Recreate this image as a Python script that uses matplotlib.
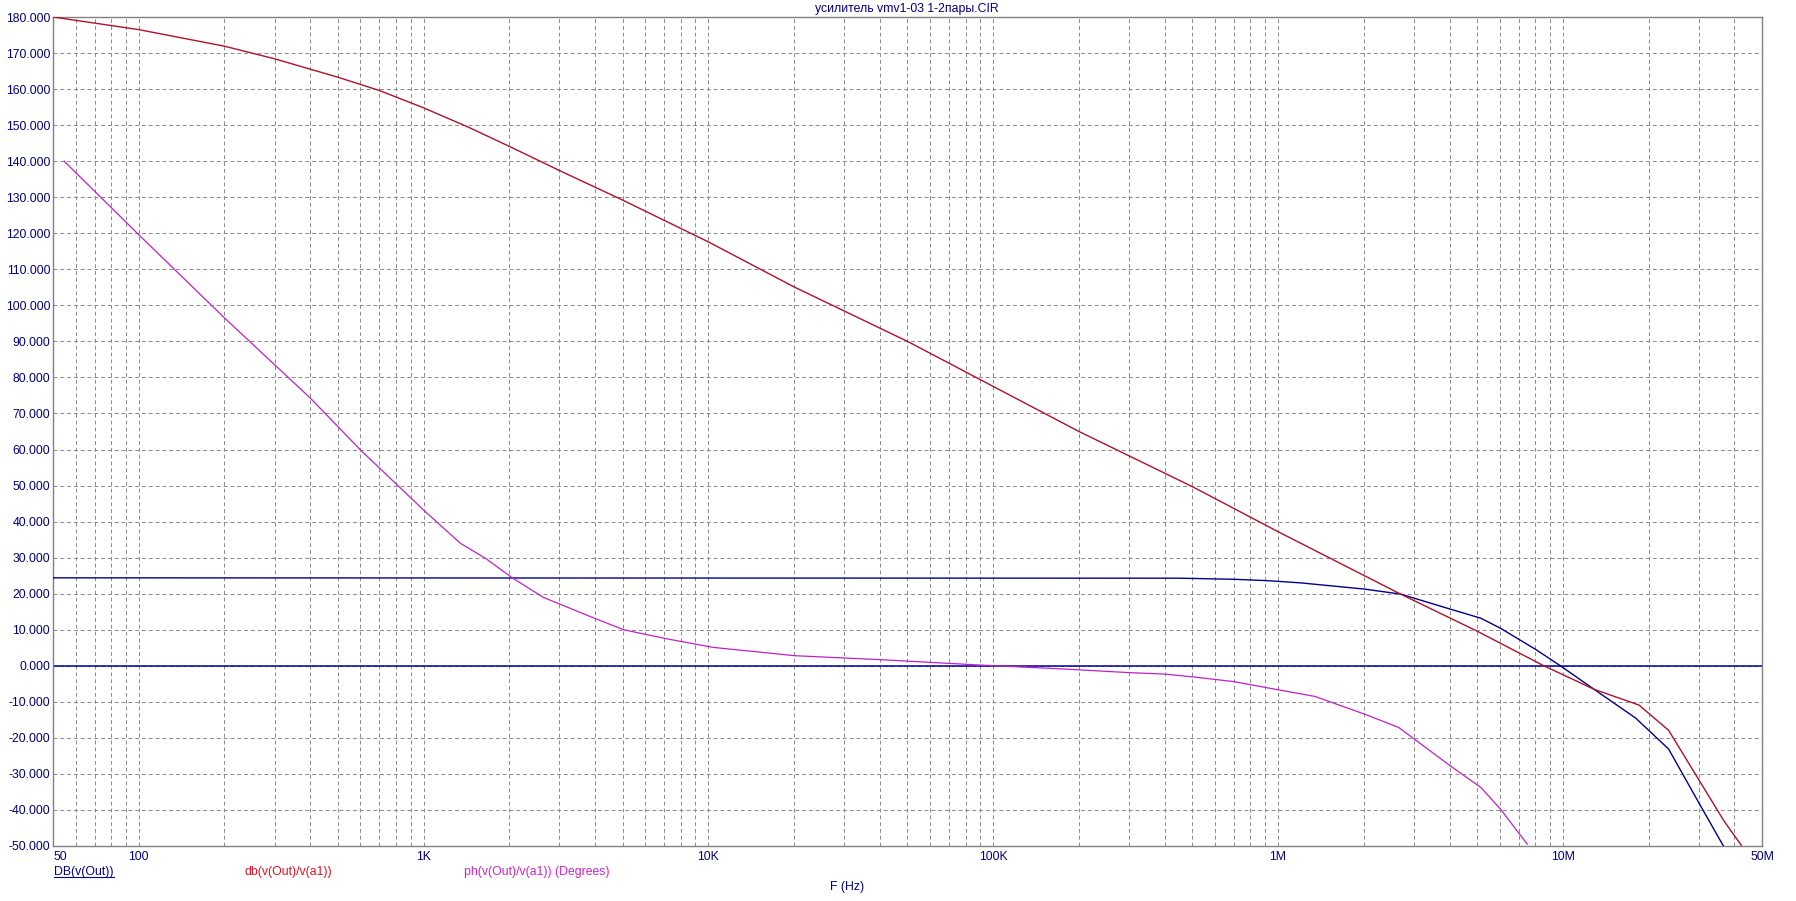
import matplotlib
matplotlib.use('Agg')
import matplotlib.pyplot as plt
from matplotlib.ticker import FixedLocator, LogLocator, NullFormatter, MultipleLocator, FormatStrFormatter
from matplotlib.lines import Line2D

plt.rcParams['font.family'] = ['Liberation Sans', 'DejaVu Sans']

# DB(v(Out))
f_out = [50, 450e3, 700e3, 925e3, 1.2e6, 2.0e6, 2.69e6, 4.03e6, 5.15e6, 6.04e6,
         8.0e6, 9.8e6, 12.85e6, 18.0e6, 23.5e6, 30e6, 36.6e6]
db_out = [24.4, 24.3, 24.0, 23.6, 23.0, 21.3, 19.9, 15.7, 13.2, 10.4,
          4.6, 0.0, -6.5, -14.5, -23.1, -38.0, -50.0]

# db(v(Out)/v(a1))
f_gain = [50, 100, 200, 300, 500, 700, 1e3, 1.44e3, 2e3, 3e3, 5e3, 10e3, 20e3, 50e3,
          100e3, 200e3, 500e3, 1e6, 2.69e6, 5e6, 8.57e6, 12.85e6, 18.5e6, 23.5e6,
          36.8e6, 42.3e6]
db_gain = [180, 176.5, 171.9, 168.4, 163.3, 159.6, 154.8, 149.4, 144.1, 137.4, 129.2,
           117.6, 105.1, 90.0, 77.5, 65.0, 49.7, 37.2, 19.9, 9.6, 0.0, -6.5, -10.9,
           -17.9, -43.1, -49.8]

# ph(v(Out)/v(a1)) (Degrees)
f_ph = [54.7, 100, 200, 400, 600, 1e3, 1.346e3, 1.65e3, 2.04e3, 2.63e3, 3.92e3,
        5.04e3, 7.23e3, 10.4e3, 20.1e3, 40.1e3, 90e3, 178e3, 300e3, 400e3, 505e3,
        701e3, 901e3, 1.346e6, 2.01e6, 2.65e6, 4.03e6, 5.16e6, 6.04e6, 7.5e6]
ph = [140, 119.6, 96.5, 74.3, 59.9, 43.2, 34.0, 29.8, 24.5, 19.0, 13.4,
      10.0, 7.4, 5.1, 2.8, 1.7, 0.2, -0.9, -1.9, -2.3, -3.1,
      -4.4, -6.0, -8.5, -13.4, -17.1, -27.8, -33.8, -39.8, -49.5]

x_ticks = [50, 100, 1e3, 1e4, 1e5, 1e6, 1e7, 5e7]
x_labels = ['50', '100', '1K', '10K', '100K', '1M', '10M', '50M']

W, H = 1796, 901
txt_col = '#000080'
fig = plt.figure(figsize=(W / 100, H / 100), dpi=100)
ax = fig.add_axes([53 / W, 1 - 846 / H, (1762 - 53) / W, (846 - 17) / H])

ax.axhline(0, color='#0000a0', lw=1.1, zorder=2)
ax.plot(f_out, db_out, color='#000090', lw=1.0, zorder=3)
ax.plot(f_gain, db_gain, color='#b0102a', lw=1.0, zorder=3)
ax.plot(f_ph, ph, color='#c020c8', lw=0.9, zorder=3)

ax.set_xscale('log')
ax.set_xlim(50, 5e7)
ax.set_ylim(-50, 180)

ax.xaxis.set_major_locator(FixedLocator(x_ticks))
ax.set_xticklabels(x_labels)
ax.xaxis.set_minor_locator(LogLocator(base=10, subs=range(2, 10), numticks=20))
ax.xaxis.set_minor_formatter(NullFormatter())
ax.yaxis.set_major_locator(MultipleLocator(10))
ax.yaxis.set_major_formatter(FormatStrFormatter('%.3f'))

grid_kw = dict(color='#8a8a8a', lw=0.7, linestyle=(0, (4, 3)))
ax.grid(True, which='both', axis='x', **grid_kw)
ax.grid(True, which='major', axis='y', **grid_kw)
ax.set_axisbelow(True)

ax.tick_params(axis='both', which='both', length=0, labelsize=8.8, labelcolor=txt_col)
ax.tick_params(axis='x', pad=3.5)
ax.tick_params(axis='y', pad=2)
ax.get_xticklabels()[0].set_horizontalalignment('left')

for s in ax.spines.values():
    s.set_color('#808080')
    s.set_linewidth(1.0)

fig.text(907 / W, 1 - 9 / H, 'усилитель vmv1-03 1-2пары.CIR', color=txt_col,
         fontsize=8.8, ha='center', va='center')

ly = 1 - 872 / H
t1 = fig.text(54 / W, ly, 'DB(v(Out))', color='#000090', fontsize=8.8, ha='left', va='center')
fig.text(245 / W, ly, 'db(v(Out)/v(a1))', color='#e01020', fontsize=8.8, ha='left', va='center')
fig.text(464 / W, ly, 'ph(v(Out)/v(a1)) (Degrees)', color='#d020d0', fontsize=8.8, ha='left', va='center')
fig.text(847 / W, 1 - 887 / H, 'F (Hz)', color=txt_col, fontsize=8.8, ha='center', va='center')

# underline the first trace name
fig.canvas.draw()
bb = t1.get_window_extent()
fig.add_artist(Line2D([bb.x0 / W, bb.x1 / W], [(bb.y0 + 1) / H, (bb.y0 + 1) / H],
                      color='#000090', lw=0.8))

fig.savefig('out.png', dpi=100, facecolor='white')
